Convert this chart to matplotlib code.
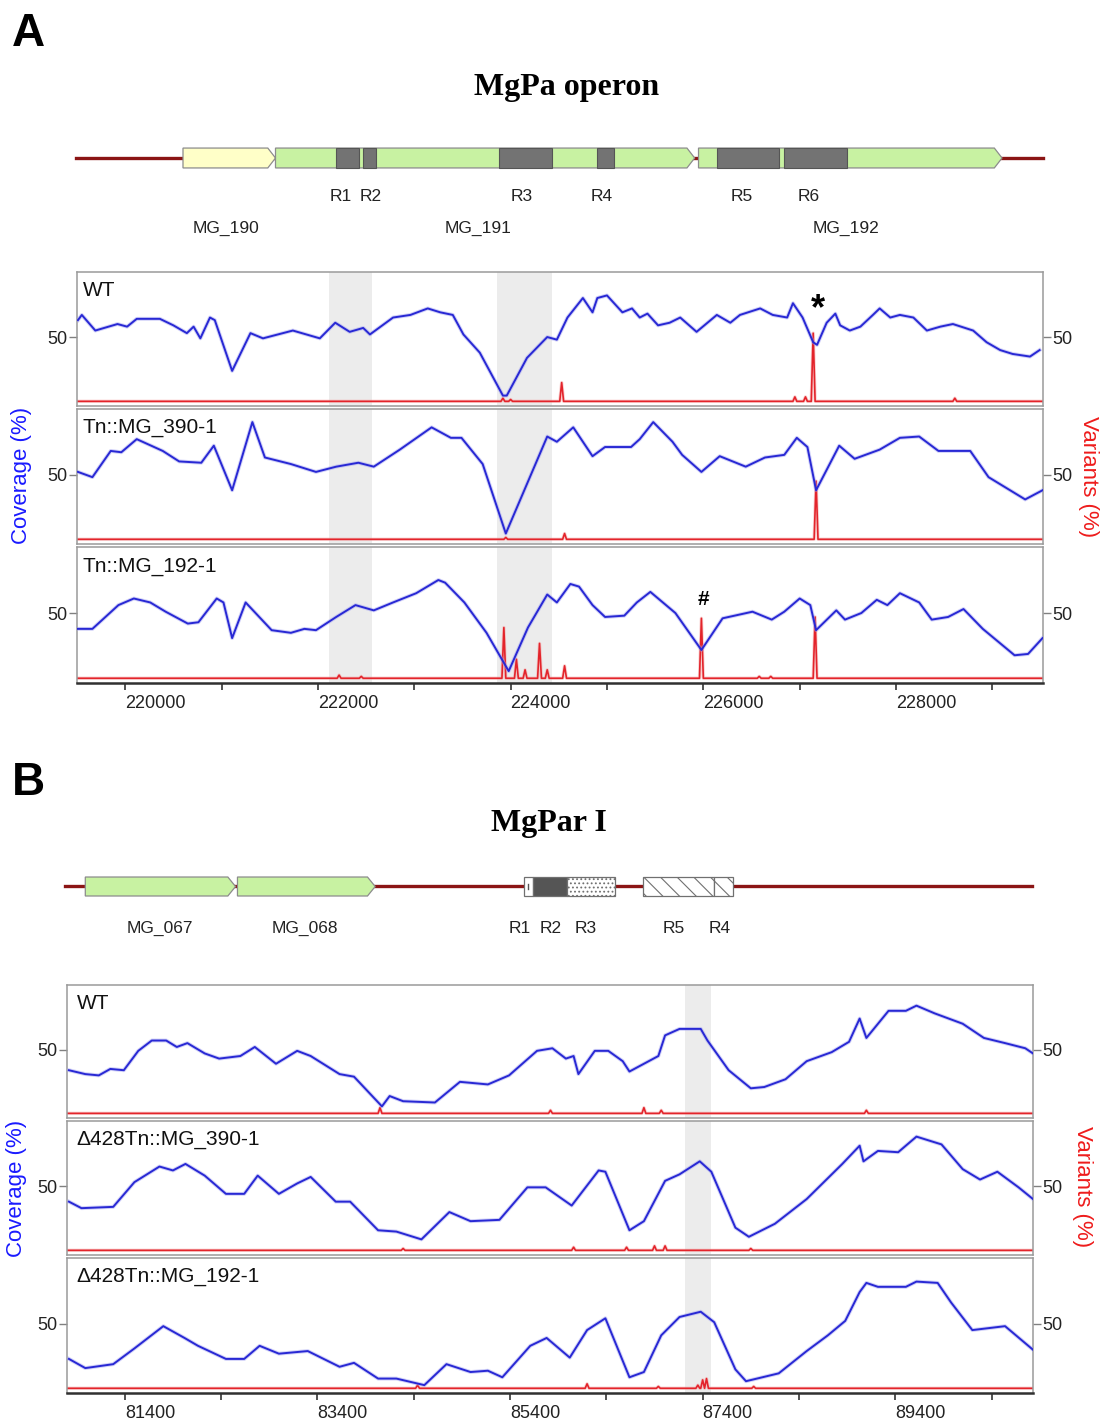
import matplotlib
matplotlib.use("Agg")
import matplotlib.pyplot as plt
from matplotlib.patches import Polygon, Rectangle
from matplotlib.ticker import FixedLocator

plt.rcParams['font.family'] = ['Liberation Sans', 'DejaVu Sans']
plt.rcParams['hatch.linewidth'] = 0.8

# ======================= DATA =======================
A_xlim = (219500, 229525)
B_xlim = (80800, 90830)
A_major_ticks = [220000, 222000, 224000, 226000, 228000]
A_minor_ticks = [221000, 223000, 225000, 227000, 229000]
B_major_ticks = [81400, 83400, 85400, 87400, 89400]
B_minor_ticks = [82400, 84400, 86400, 88400, 90400]

A_bands = [(222120, 222560), (223860, 224430)]
B_bands = [(87220, 87490)]

A_track_labels = ["WT", "Tn::MG_390-1", "Tn::MG_192-1"]
B_track_labels = ["WT", "\u0394428Tn::MG_390-1", "\u0394428Tn::MG_192-1"]

# --- gene map A ---
A_backbone = (219490, 229530)
A_gene_names = ["MG_190", "MG_191", "MG_192"]
A_gene_start = [220600, 221560, 225950]
A_gene_end = [221560, 225910, 229100]
A_gene_label_x = [221050, 223660, 227480]
A_gene_colors = ["#ffffc8", "#c8f2a2", "#c8f2a2"]
A_rep_names = ["R1", "R2", "R3", "R4", "R5", "R6"]
A_rep_start = [222190, 222470, 223880, 224900, 226140, 226840]
A_rep_end = [222430, 222600, 224430, 225070, 226790, 227490]
A_rep_label_x = [222240, 222550, 224110, 224940, 226400, 227090]

# --- gene map B ---
B_backbone = (80780, 90820)
B_gene_names = ["MG_067", "MG_068"]
B_gene_start = [80990, 82570]
B_gene_end = [82550, 84000]
B_gene_label_x = [81760, 83270]
B_rep_names = ["R1", "R2", "R3", "R5", "R4"]
B_rep_start = [85540, 85640, 85990, 86780, 87520]
B_rep_end = [85640, 85990, 86490, 87520, 87720]
B_rep_label_x = [85500, 85820, 86190, 87100, 87580]
B_rep_fill = ["white", "#555555", "white", "white", "white"]
B_rep_hatch = [None, None, "....", "\\\\", "\\\\"]

# --- coverage, panel A ---
A1_x = [219510, 219550, 219690, 219920, 220020, 220120, 220360, 220500, 220640, 220710,
        220780, 220880, 220930, 221110, 221300, 221430, 221740, 222020, 222180, 222330,
        222470, 222540, 222780, 222960, 223140, 223270, 223400, 223510, 223680, 223920,
        223960, 224170, 224380, 224480, 224590, 224750, 224850, 224900, 225000, 225160,
        225260, 225340, 225420, 225530, 225650, 225760, 225930, 226140, 226280, 226380,
        226590, 226720, 226870, 226930, 227030, 227140, 227180, 227280, 227370, 227420,
        227520, 227630, 227760, 227830, 227940, 228040, 228180, 228320, 228460, 228590,
        228800, 228940, 229080, 229210, 229390, 229490]
A1_y = [63, 67, 55, 60, 58, 64, 64, 59, 53, 58, 49, 65, 63, 24, 53, 49, 55, 49, 61, 54,
        57, 52, 65, 67, 72, 69, 67, 52, 38, 5, 5, 34, 50, 48, 65, 80, 69, 80, 82, 69,
        72, 65, 68, 59, 61, 65, 54, 67, 61, 67, 72, 67, 65, 76, 65, 46, 44, 61, 68, 59,
        55, 58, 67, 72, 65, 67, 65, 55, 58, 60, 55, 46, 40, 37, 35, 40]
A2_x = [219510, 219660, 219850, 219960, 220120, 220390, 220560, 220790, 220920, 221110,
        221320, 221450, 221720, 221980, 222190, 222420, 222580, 222850, 223180, 223380,
        223490, 223710, 223950, 224380, 224480, 224650, 224850, 224980, 225250, 225340,
        225480, 225680, 225780, 225980, 226170, 226440, 226640, 226840, 226970, 227080,
        227170, 227410, 227570, 227830, 228040, 228240, 228440, 228770, 228960, 229340,
        229520]
A2_y = [52, 48, 68, 67, 77, 68, 60, 59, 72, 38, 90, 63, 58, 52, 56, 59, 56, 69, 86, 78,
        78, 58, 5, 79, 75, 86, 64, 71, 71, 77, 90, 75, 65, 52, 64, 56, 63, 65, 78, 71,
        38, 72, 62, 69, 78, 79, 68, 68, 48, 31, 38]
A3_x = [219510, 219660, 219930, 220090, 220260, 220420, 220650, 220760, 220950, 221020,
        221110, 221250, 221520, 221720, 221860, 221980, 222190, 222390, 222580, 222780,
        223020, 223250, 223320, 223520, 223750, 223980, 224180, 224380, 224480, 224620,
        224710, 224850, 224980, 225180, 225310, 225450, 225580, 225710, 225980, 226200,
        226510, 226710, 226840, 227000, 227110, 227170, 227380, 227470, 227640, 227800,
        227910, 228040, 228240, 228370, 228540, 228700, 228900, 229230, 229370, 229520]
A3_y = [38, 38, 56, 61, 58, 51, 42, 43, 61, 58, 31, 58, 37, 35, 38, 37, 47, 56, 52, 58,
        65, 75, 73, 58, 35, 6, 39, 64, 58, 72, 70, 56, 47, 48, 58, 66, 58, 50, 22, 46,
        51, 45, 51, 61, 56, 37, 52, 45, 50, 60, 56, 65, 58, 45, 47, 53, 38, 18, 19, 31]

# --- variants, panel A (position, %) ---
A1_var_pos = [223920, 224000, 224530, 226950, 227060, 227140, 228610]
A1_var_val = [3, 2, 15, 4, 4, 53, 3]
A2_var_pos = [223950, 224560, 227170]
A2_var_val = [2, 5, 45]
A3_var_pos = [222220, 222450, 223930, 224060, 224150, 224300, 224380, 224560, 225980,
              226580, 226700, 227160]
A3_var_val = [3, 2, 39, 15, 7, 27, 7, 10, 46, 2, 2, 47]

# --- coverage, panel B ---
B1_x = [80820, 80990, 81130, 81250, 81390, 81540, 81680, 81830, 81940, 82050,
        82230, 82380, 82600, 82750, 82970, 83190, 83330, 83630, 83780, 84070,
        84150, 84290, 84620, 84880, 85170, 85390, 85680, 85840, 85980, 86060,
        86110, 86280, 86420, 86570, 86640, 86790, 86940, 87010, 87160, 87270,
        87380, 87450, 87670, 87900, 88040, 88260, 88480, 88740, 88920, 89030,
        89100, 89330, 89510, 89620, 89810, 90100, 90320, 90540, 90750, 90830]
B1_y = [34, 31, 30, 35, 34, 49, 57, 57, 52, 55, 47, 43, 45, 52, 39, 49, 45, 31, 29, 6,
        14, 10, 9, 25, 23, 30, 49, 51, 43, 45, 31, 49, 49, 41, 33, 39, 45, 61, 66, 66,
        66, 57, 34, 20, 21, 27, 41, 48, 56, 74, 59, 80, 80, 84, 78, 70, 59, 55, 51, 47]
B2_x = [80820, 80950, 81280, 81500, 81760, 81900, 82030, 82230, 82450, 82640,
        82780, 83000, 83190, 83330, 83590, 83740, 84030, 84220, 84480, 84770,
        84990, 85290, 85580, 85770, 86040, 86320, 86390, 86640, 86790, 87010,
        87160, 87370, 87490, 87740, 87880, 88150, 88480, 88850, 89030, 89070,
        89220, 89430, 89620, 89880, 90100, 90280, 90460, 90680, 90830]
B2_y = [38, 33, 34, 53, 65, 62, 67, 58, 44, 44, 58, 44, 52, 57, 38, 38, 16, 15, 9, 30,
        23, 24, 49, 49, 35, 62, 61, 16, 23, 54, 59, 69, 61, 18, 11, 21, 40, 67, 81, 69,
        77, 76, 88, 82, 63, 55, 61, 49, 40]
B3_x = [80820, 80990, 81280, 81500, 81800, 82020, 82160, 82450, 82640, 82800,
        83000, 83300, 83630, 83780, 84030, 84220, 84510, 84740, 84990, 85170,
        85320, 85610, 85780, 86020, 86200, 86390, 86640, 86790, 86970, 87160,
        87380, 87520, 87740, 87850, 88190, 88480, 88700, 88880, 89030, 89100,
        89220, 89510, 89620, 89840, 89980, 90200, 90540, 90830]
B3_y = [23, 16, 19, 31, 48, 39, 33, 23, 23, 33, 27, 29, 17, 20, 8, 8, 3, 19, 13, 14,
        9, 33, 39, 24, 45, 54, 9, 13, 41, 55, 59, 51, 15, 6, 12, 29, 41, 52, 74, 81,
        78, 78, 82, 81, 66, 45, 48, 30]

# --- variants, panel B ---
B1_var_pos = [84050, 85820, 86790, 86970, 89100]
B1_var_val = [5, 3, 5, 3, 3]
B2_var_pos = [84290, 86060, 86610, 86900, 87010, 87900]
B2_var_val = [2, 3, 3, 4, 4, 2]
B3_var_pos = [84440, 86200, 86940, 87350, 87400, 87440, 87930]
B3_var_val = [3, 4, 2, 3, 7, 8, 2]

A1_annot = ("*", 227190, 71)
A3_annot = ("#", 226000, 60)

# ======================= STYLE / LAYOUT =======================
W, H = 1103, 1425
BLUE = "#2828d4"
RED = "#e3242b"
SPINE = "#9a9a9a"
BAND = "#ececec"
BACKBONE = "#8b1515"

fig = plt.figure(figsize=(W / 100, H / 100), dpi=100)


def axes_px(l, t, r, b):
    return fig.add_axes([l / W, 1 - b / H, (r - l) / W, (b - t) / H])


def variant_line(xlim, pos, val, base=0.6, hw=20):
    xs, ys = [xlim[0]], [base]
    for p, v in sorted(zip(pos, val)):
        xs += [p - hw, p, p + hw]
        ys += [base, v, base]
    xs.append(xlim[1])
    ys.append(base)
    return xs, ys


def draw_track(ax, xlim, cx, cy, vpos, vval, bands, label, label_dx, bottom,
               majors, minors):
    for b0, b1 in bands:
        ax.axvspan(b0, b1, color=BAND, lw=0, zorder=0)
    vx, vy = variant_line(xlim, vpos, vval)
    ax.plot(vx, vy, color="#f4a0a0", lw=2.4, zorder=1, alpha=0.5)
    ax.plot(vx, vy, color=RED, lw=1.2, zorder=2)
    ax.plot(cx, cy, color="#9a9af0", lw=2.8, zorder=3, alpha=0.45,
            solid_joinstyle="round")
    ax.plot(cx, cy, color=BLUE, lw=1.4, zorder=4, solid_joinstyle="round")
    ax.set_xlim(xlim)
    ax.set_ylim(-3, 100)
    ax.set_yticks([50])
    ax.set_yticklabels(["50"])
    ax.tick_params(axis="y", left=True, right=True, labelleft=True, labelright=True,
                   length=6, width=1, color="#808080", labelsize=13, pad=1,
                   labelcolor="#222222")
    for s in ax.spines.values():
        s.set_color(SPINE)
        s.set_linewidth(1.1)
    ax.text(label_dx, 0.93, label, transform=ax.transAxes, ha="left", va="top",
            fontsize=15, color="#111111")
    if bottom:
        ax.xaxis.set_major_locator(FixedLocator(majors))
        ax.xaxis.set_minor_locator(FixedLocator(minors))
        ax.set_xticklabels([str(m) for m in majors])
        ax.tick_params(axis="x", which="both", length=5, width=1.2, color="#333333",
                       labelsize=13, pad=4, labelcolor="#222222")
        for t in ax.get_xticklabels():
            t.set_ha("left")
        ax.spines["bottom"].set_color("#303030")
        ax.spines["bottom"].set_linewidth(1.8)
    else:
        ax.set_xticks([])


def arrow_gene(ax, x0, x1, y0, y1, fc, tip):
    ym = (y0 + y1) / 2
    ax.add_patch(Polygon([(x0, y0), (x1 - tip, y0), (x1, ym), (x1 - tip, y1), (x0, y1)],
                         closed=True, fc=fc, ec="#8c8c8c", lw=0.9, zorder=2))


# ---------------- Panel A ----------------
fig.text(12 / W, 1 - 34 / H, "A", fontsize=33, fontweight="bold", ha="left", va="center")
fig.text(567 / W, 1 - 87 / H, "MgPa operon", fontsize=23, fontweight="bold",
         family="Liberation Serif", ha="center", va="center")

gA = axes_px(77, 130, 1043, 245)
gA.set_xlim(A_xlim)
gA.set_ylim(1, 0)
gA.axis("off")
gA.plot(A_backbone, [0.243, 0.243], color=BACKBONE, lw=2.4, zorder=1, clip_on=False)
for n, s, e, lx, c in zip(A_gene_names, A_gene_start, A_gene_end, A_gene_label_x, A_gene_colors):
    arrow_gene(gA, s, e, 0.157, 0.330, c, 80)
    gA.text(lx, 0.852, n, ha="center", va="center", fontsize=12.5, color="#222222")
for n, s, e, lx in zip(A_rep_names, A_rep_start, A_rep_end, A_rep_label_x):
    gA.add_patch(Rectangle((s, 0.157), e - s, 0.173, fc="#737373", ec="#555555",
                           lw=0.8, zorder=3))
    gA.text(lx, 0.574, n, ha="center", va="center", fontsize=12.5, color="#222222")

A_rects = [(77, 272, 1043, 406), (77, 409, 1043, 544), (77, 547, 1043, 683)]
A_cov = [(A1_x, A1_y), (A2_x, A2_y), (A3_x, A3_y)]
A_var = [(A1_var_pos, A1_var_val), (A2_var_pos, A2_var_val), (A3_var_pos, A3_var_val)]
A_axes = []
for i, r in enumerate(A_rects):
    ax = axes_px(*r)
    draw_track(ax, A_xlim, A_cov[i][0], A_cov[i][1], A_var[i][0], A_var[i][1], A_bands,
               A_track_labels[i], 0.006, i == 2, A_major_ticks, A_minor_ticks)
    A_axes.append(ax)
A_axes[0].text(A1_annot[1], A1_annot[2], A1_annot[0], fontsize=26, fontweight="bold",
               ha="center", va="center", zorder=5)
A_axes[2].text(A3_annot[1], A3_annot[2], A3_annot[0], fontsize=15, fontweight="bold",
               ha="center", va="center", zorder=5)

fig.text(22 / W, 1 - 475 / H, "Coverage (%)", rotation=90, color="#1a1aff", fontsize=16,
         ha="center", va="center")
fig.text(1089 / W, 1 - 477 / H, "Variants (%)", rotation=270, color="#ee1c1c", fontsize=16,
         ha="center", va="center")

# ---------------- Panel B ----------------
fig.text(12 / W, 1 - 783 / H, "B", fontsize=33, fontweight="bold", ha="left", va="center")
fig.text(549 / W, 1 - 824 / H, "MgPar I", fontsize=23, fontweight="bold",
         family="Liberation Serif", ha="center", va="center")

gB = axes_px(67, 860, 1033, 950)
gB.set_xlim(B_xlim)
gB.set_ylim(1, 0)
gB.axis("off")
gB.plot(B_backbone, [0.294, 0.294], color=BACKBONE, lw=2.4, zorder=1, clip_on=False)
for n, s, e, lx in zip(B_gene_names, B_gene_start, B_gene_end, B_gene_label_x):
    arrow_gene(gB, s, e, 0.189, 0.40, "#c8f2a2", 80)
    gB.text(lx, 0.756, n, ha="center", va="center", fontsize=12.5, color="#222222")
for n, s, e, lx, fc, ht in zip(B_rep_names, B_rep_start, B_rep_end, B_rep_label_x,
                               B_rep_fill, B_rep_hatch):
    gB.add_patch(Rectangle((s, 0.189), e - s, 0.211, fc=fc, ec="#707070", lw=0.9,
                           hatch=ht, zorder=3))
    gB.text(lx, 0.756, n, ha="center", va="center", fontsize=12.5, color="#222222")
# small mark inside R1
gB.plot([(B_rep_start[0] + B_rep_end[0]) / 2] * 2, [0.27, 0.32], color="#555555",
        lw=1, zorder=4)

B_rects = [(67, 985, 1033, 1118), (67, 1121, 1033, 1255), (67, 1258, 1033, 1393)]
B_cov = [(B1_x, B1_y), (B2_x, B2_y), (B3_x, B3_y)]
B_var = [(B1_var_pos, B1_var_val), (B2_var_pos, B2_var_val), (B3_var_pos, B3_var_val)]
for i, r in enumerate(B_rects):
    ax = axes_px(*r)
    draw_track(ax, B_xlim, B_cov[i][0], B_cov[i][1], B_var[i][0], B_var[i][1], B_bands,
               B_track_labels[i], 0.010, i == 2, B_major_ticks, B_minor_ticks)

fig.text(17 / W, 1 - 1188 / H, "Coverage (%)", rotation=90, color="#1a1aff", fontsize=16,
         ha="center", va="center")
fig.text(1083 / W, 1 - 1187 / H, "Variants (%)", rotation=270, color="#ee1c1c", fontsize=16,
         ha="center", va="center")

fig.savefig("out.png", dpi=100)
